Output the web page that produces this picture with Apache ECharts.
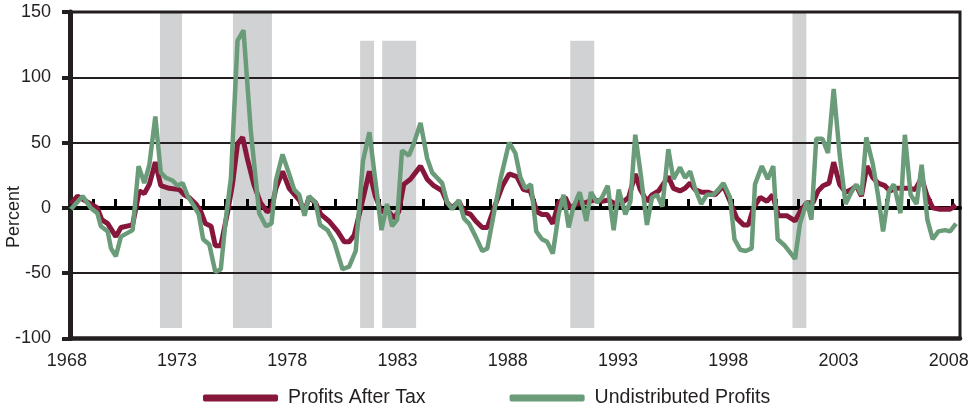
<!DOCTYPE html>
<html>
<head>
<meta charset="utf-8">
<script src="https://cdn.jsdelivr.net/npm/echarts@6/dist/echarts.min.js"></script>
<style>
html,body{margin:0;padding:0;background:#fff;}
#chart{width:977px;height:409px;}
</style>
</head>
<body>
<div id="chart"></div>
<script>
// ---- data ----
var seriesNames = ['Profits After Tax', 'Undistributed Profits'];
var xTickLabels = [1968, 1973, 1978, 1983, 1988, 1993, 1998, 2003, 2008];
var yTicks = [-100, -50, 0, 50, 100, 150];

// recession shading: [start year, end year, bottom %, top %]
var recessions = [
  [1972.04, 1973.04, -92, 150],
  [1975.35, 1977.12, -92, 150],
  [1981.12, 1981.75, -92, 128],
  [1982.12, 1983.66, -92, 128],
  [1990.65, 1991.74, -92, 128],
  [2000.73, 2001.36, -92, 150]
];

// [year, percent]
var profitsAfterTax = [
  [1968.0,3],[1968.3,9],[1968.6,6],[1968.9,3],[1969.2,0],[1969.4,-9],[1969.67,-12],[1970.04,-22],
  [1970.27,-15],[1970.8,-13],[1971.1,13],[1971.33,11],[1971.56,18],[1971.83,35],[1972.08,17],[1972.46,15],
  [1972.92,14],[1973.14,10],[1973.36,8],[1973.67,3],[1973.9,-3],[1974.1,-12],[1974.36,-14],[1974.55,-29],
  [1974.8,-29],[1975.1,-4],[1975.33,18],[1975.56,49],[1975.79,54],[1976.0,38],[1976.3,18],[1976.6,4],
  [1976.9,-3],[1977.1,-1],[1977.3,15],[1977.6,28],[1977.9,15],[1978.36,6],[1978.6,-3],[1978.8,8],
  [1979.1,4],[1979.34,-5],[1979.7,-10],[1980.1,-18],[1980.4,-26],[1980.62,-26],[1980.85,-21],[1981.25,7],
  [1981.54,28],[1981.81,9],[1982.09,-3],[1982.34,-1],[1982.65,-8],[1982.87,-3],[1983.1,18],[1983.4,22],
  [1983.86,32],[1984.16,22],[1984.46,17],[1984.84,13],[1985.07,4],[1985.3,0],[1985.6,5],[1985.83,-3],
  [1986.13,-5],[1986.36,-10],[1986.66,-15],[1986.89,-15],[1987.2,0],[1987.58,17],[1987.88,26],[1988.23,24],
  [1988.53,14],[1988.84,13],[1989.14,-3],[1989.37,-5],[1989.6,-5],[1989.86,-12],[1990.12,4],[1990.42,8],
  [1990.65,0],[1990.95,3],[1991.33,4],[1991.71,6],[1992.09,5],[1992.39,6],[1992.7,3],[1993.0,4],
  [1993.3,8],[1993.6,26],[1993.83,14],[1994.13,5],[1994.36,10],[1994.66,13],[1995.1,24],[1995.33,15],
  [1995.63,13],[1995.86,15],[1996.09,19],[1996.31,14],[1996.62,12],[1996.92,12],[1997.22,10],[1997.6,17],
  [1997.9,5],[1998.21,-8],[1998.51,-13],[1998.73,-13],[1998.96,0],[1999.27,8],[1999.57,5],[1999.83,10],
  [2000.09,-6],[2000.47,-6],[2000.85,-10],[2001.07,-3],[2001.38,4],[2001.66,4],[2001.89,13],[2002.12,17],
  [2002.39,19],[2002.6,35],[2002.87,18],[2003.14,12],[2003.4,14],[2003.63,17],[2003.86,9],[2004.11,32],
  [2004.38,23],[2004.61,19],[2004.92,17],[2005.14,13],[2005.45,15],[2005.75,15],[2006.06,15],[2006.29,14],
  [2006.59,23],[2006.82,10],[2007.09,0],[2007.42,-1],[2007.88,-1],[2008.15,2]
];

var undistributedProfits = [
  [1968.0,-1],[1968.53,9],[1968.9,0],[1969.2,-4],[1969.36,-14],[1969.67,-18],[1969.82,-31],[1970.04,-37],
  [1970.27,-22],[1970.8,-17],[1971.07,32],[1971.33,19],[1971.56,33],[1971.83,70],[1972.08,27],[1972.31,23],
  [1972.61,21],[1972.84,17],[1973.07,19],[1973.3,9],[1973.6,1],[1973.8,-5],[1974.0,-24],[1974.28,-28],
  [1974.55,-49],[1974.8,-47],[1975.03,-8],[1975.26,23],[1975.56,128],[1975.83,136],[1976.16,59],[1976.39,21],
  [1976.54,-4],[1976.85,-14],[1977.1,-12],[1977.3,21],[1977.6,41],[1977.9,26],[1978.13,14],[1978.36,10],
  [1978.6,-6],[1978.8,9],[1979.1,4],[1979.3,-13],[1979.64,-17],[1979.94,-26],[1980.32,-47],[1980.62,-45],
  [1980.92,-33],[1981.25,36],[1981.54,58],[1981.81,21],[1982.09,-17],[1982.34,3],[1982.57,-14],[1982.8,-9],
  [1983.02,44],[1983.33,40],[1983.55,49],[1983.86,65],[1984.16,38],[1984.39,27],[1984.84,19],[1985.07,4],
  [1985.3,-1],[1985.6,6],[1985.83,-8],[1986.06,-12],[1986.36,-22],[1986.66,-33],[1986.89,-31],[1987.2,-3],
  [1987.5,23],[1987.88,50],[1988.16,42],[1988.38,24],[1988.61,15],[1988.87,18],[1989.11,-18],[1989.37,-24],
  [1989.6,-26],[1989.86,-35],[1990.12,-5],[1990.35,10],[1990.58,-15],[1990.8,1],[1991.08,12],[1991.38,-10],
  [1991.59,12],[1991.87,4],[1992.09,8],[1992.35,17],[1992.62,-17],[1992.85,14],[1993.15,-5],[1993.38,5],
  [1993.6,56],[1993.83,28],[1994.13,-13],[1994.36,8],[1994.59,10],[1994.83,1],[1995.1,45],[1995.33,22],
  [1995.63,31],[1995.86,23],[1996.09,28],[1996.31,15],[1996.59,3],[1996.84,10],[1997.14,10],[1997.37,14],
  [1997.6,19],[1997.9,8],[1998.1,-24],[1998.36,-32],[1998.61,-33],[1998.88,-31],[1999.03,18],[1999.34,32],
  [1999.61,22],[1999.86,32],[2000.06,-24],[2000.39,-29],[2000.85,-39],[2001.07,-12],[2001.38,5],[2001.59,-9],
  [2001.81,53],[2002.09,53],[2002.34,42],[2002.6,91],[2002.87,41],[2003.14,3],[2003.4,12],[2003.63,18],
  [2003.86,10],[2004.08,54],[2004.38,33],[2004.61,10],[2004.84,-18],[2005.11,13],[2005.33,18],[2005.63,-4],
  [2005.83,56],[2006.09,10],[2006.36,3],[2006.59,33],[2006.85,-9],[2007.09,-24],[2007.35,-18],[2007.65,-17],
  [2007.88,-18],[2008.15,-12]
];

// ---- chart ----
var yearTicks = [];
for (var y = 1969; y <= 2008; y++) yearTicks.push(y);

var INK = '#231f20';
var FONT = '"Liberation Sans", Arial, Helvetica, sans-serif';
var chart = echarts.init(document.getElementById('chart'), null, {renderer: 'canvas'});

chart.setOption({
  animation: false,
  backgroundColor: '#ffffff',
  textStyle: {fontFamily: FONT},
  grid: {
    left: 70, right: 17, top: 12, bottom: 70.5,
    show: true, borderColor: INK, borderWidth: 3, backgroundColor: 'transparent'
  },
  legend: {
    left: 203, top: 388, padding: 0,
    itemWidth: 75, itemHeight: 7, itemGap: 84,
    textStyle: {fontSize: 19.5, color: INK, fontFamily: FONT, padding: [0, 0, 0, 5]},
    data: [
      {name: seriesNames[0], icon: 'roundRect', itemStyle: {color: '#87173a'}},
      {name: seriesNames[1], icon: 'roundRect', itemStyle: {color: '#6b9c79'}}
    ],
    selectedMode: false
  },
  graphic: [{
    type: 'text', x: 14, y: 217, rotation: Math.PI / 2,
    style: {text: 'Percent', font: '18px ' + FONT, fill: INK, align: 'center', verticalAlign: 'middle'}
  }],
  xAxis: [{
    type: 'value', min: 1967.96, max: 2008.33,
    axisLine: {show: true, onZero: false, lineStyle: {color: INK, width: 4.5}},
    axisTick: {show: false},
    splitLine: {show: false},
    axisLabel: {customValues: xTickLabels, fontSize: 18, color: INK, margin: 14, padding: [0, 8, 0, 0], fontFamily: FONT,
      formatter: function (v) { return String(Math.round(v)); }}
  }, {
    type: 'value', min: 1967.96, max: 2008.33,
    axisLine: {show: true, onZero: true, lineStyle: {color: '#000', width: 4}},
    axisTick: {show: true, customValues: yearTicks, length: 9, inside: false, lineStyle: {color: '#000', width: 3}},
    axisLabel: {show: false},
    splitLine: {show: false}
  }],
  yAxis: {
    type: 'value', min: -100, max: 150, interval: 50,
    axisLine: {show: true, onZero: false, lineStyle: {color: INK, width: 5}},
    axisTick: {show: true, length: 8, lineStyle: {color: INK, width: 4}},
    axisLabel: {fontSize: 18, color: INK, margin: 19, fontFamily: FONT},
    splitLine: {show: true, lineStyle: {color: INK, width: 2}}
  },
  series: [{
    type: 'custom', z: -1, silent: true,
    xAxisIndex: 0,
    renderItem: function (params, api) {
      var p0 = api.coord([api.value(0), api.value(3)]);
      var p1 = api.coord([api.value(1), api.value(2)]);
      return {type: 'rect', shape: {x: p0[0], y: p0[1], width: p1[0] - p0[0], height: p1[1] - p0[1]},
              style: {fill: '#d1d2d4'}};
    },
    encode: {x: [0, 1], y: [2, 3]},
    data: recessions
  }, {
    name: seriesNames[0], type: 'line', xAxisIndex: 0, data: profitsAfterTax,
    showSymbol: false, symbol: 'none',
    lineStyle: {color: '#87173a', width: 5},
    itemStyle: {color: '#87173a'}, z: 3
  }, {
    name: seriesNames[1], type: 'line', xAxisIndex: 0, data: undistributedProfits,
    showSymbol: false, symbol: 'none',
    lineStyle: {color: '#6b9c79', width: 4.5},
    itemStyle: {color: '#6b9c79'}, z: 4
  }]
});
</script>
</body>
</html>
